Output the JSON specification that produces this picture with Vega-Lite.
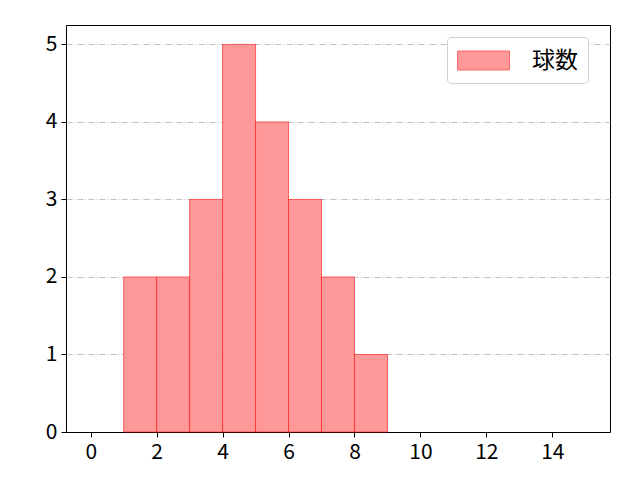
{
  "$schema": "https://vega.github.io/schema/vega-lite/v6.json",
  "width": 544,
  "height": 407,
  "autosize": "none",
  "padding": {"left": 66, "top": 25, "right": 30, "bottom": 48},
  "background": "white",
  "data": {
    "values": [
      {"bin_start": 1, "bin_end": 2, "count": 2},
      {"bin_start": 2, "bin_end": 3, "count": 2},
      {"bin_start": 3, "bin_end": 4, "count": 3},
      {"bin_start": 4, "bin_end": 5, "count": 5},
      {"bin_start": 5, "bin_end": 6, "count": 4},
      {"bin_start": 6, "bin_end": 7, "count": 3},
      {"bin_start": 7, "bin_end": 8, "count": 2},
      {"bin_start": 8, "bin_end": 9, "count": 1}
    ]
  },
  "mark": {
    "type": "bar",
    "stroke": "#ff0000",
    "strokeOpacity": 0.55,
    "strokeWidth": 1
  },
  "encoding": {
    "x": {
      "field": "bin_start",
      "type": "quantitative",
      "scale": {"domain": [-0.75, 15.75], "nice": false, "zero": false},
      "axis": {"values": [0, 2, 4, 6, 8, 10, 12, 14], "grid": false, "title": null, "format": "d"}
    },
    "x2": {"field": "bin_end"},
    "y": {
      "field": "count",
      "type": "quantitative",
      "scale": {"domain": [0, 5.25], "nice": false},
      "axis": {"values": [0, 1, 2, 3, 4, 5], "grid": true, "title": null, "format": "d"}
    },
    "y2": {"datum": 0},
    "color": {
      "datum": "球数",
      "scale": {"range": ["#ff9999"]},
      "legend": {
        "orient": "none",
        "legendX": 381,
        "legendY": 12,
        "title": null,
        "fillColor": "white",
        "strokeColor": "#d0d0d0",
        "cornerRadius": 4,
        "padding": 10,
        "symbolType": "M-2,-0.73H2V0.73H-2Z",
        "symbolSize": 676,
        "symbolStrokeColor": "#ff6666",
        "symbolStrokeWidth": 1,
        "symbolOpacity": 1,
        "symbolOffset": 13,
        "labelFontSize": 23,
        "labelOffset": 35,
        "labelFont": "Noto Sans CJK JP",
        "labelColor": "black"
      }
    }
  },
  "config": {
    "view": {"stroke": "black", "strokeWidth": 1},
    "font": "Noto Sans CJK JP",
    "axis": {
      "labelFont": "Noto Sans CJK JP",
      "labelFontSize": 21,
      "labelColor": "black",
      "domainColor": "black",
      "tickColor": "black",
      "tickSize": 5,
      "labelPadding": 4,
      "gridColor": "#b0b0b0",
      "gridDash": [6, 2, 1, 2],
      "gridWidth": 0.8
    }
  }
}
